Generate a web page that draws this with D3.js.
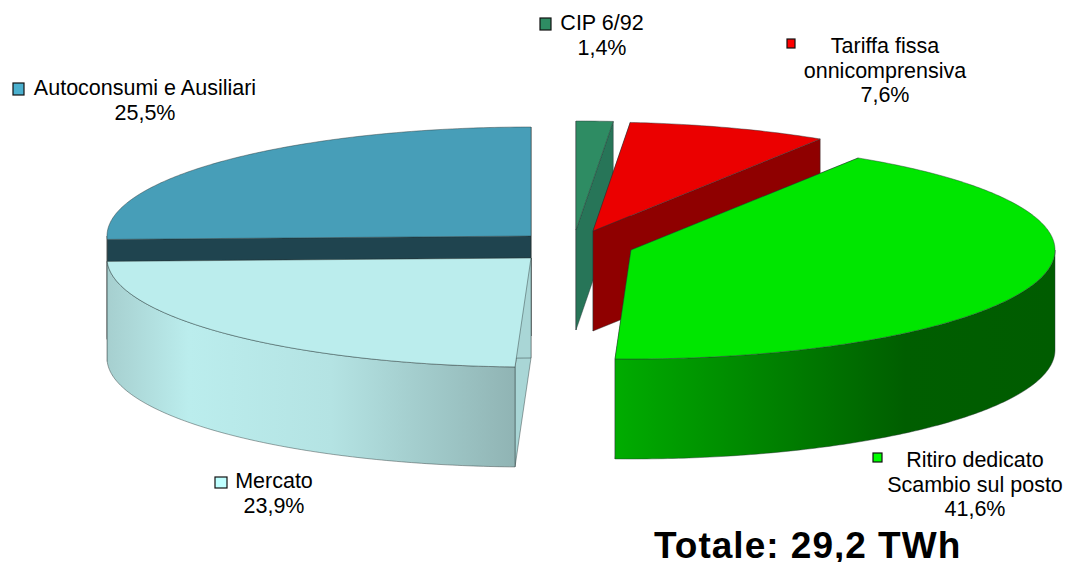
<!DOCTYPE html>
<html><head><meta charset="utf-8">
<script src="https://cdn.jsdelivr.net/npm/d3@7"></script>
<style>html,body{margin:0;background:#fff}svg{display:block}text{font-family:"Liberation Sans",Arial,sans-serif;fill:#000}</style>
</head><body><svg id="c" width="1066" height="562"></svg>
<script>
const categories=["CIP 6/92","Tariffa fissa onnicomprensiva","Ritiro dedicato Scambio sul posto","Mercato","Autoconsumi e Ausiliari"];
const values=[1.4,7.6,41.6,23.9,25.5];
const valueLabels=["1,4%","7,6%","41,6%","23,9%","25,5%"];
const topColors=["#2E8C63","#EB0000","#00E600","#BBEDED","#479EB8"];
const wallColors=["#277558","#8F0000","#009000","#A9D6D6","#1F444F"];
const keyColors=["#2E8C63","#FF0000","#00FF00","#BFFFFF","#4BB0CE"];
const centersX=[576,593,631,531,531];
const centersY=[230,231,250,258,236];
const labelLines=[["CIP  6/92","1,4%"],["Tariffa fissa","onnicomprensiva","7,6%"],["Ritiro dedicato","Scambio sul posto","41,6%"],["Mercato","23,9%"],["Autoconsumi e Ausiliari","25,5%"]];
const labelX=[602,885,975,274,145];
const labelY=[30,53,467,488,95];
const keyX=[540,787,873,215,13];
const keyY=[18,39,453,477,83];
const keyW=[11,8,9,12,11];
const keyH=[12,9,9,11,12];
const sideStops=[
 [],[],
 [[0,"#00AC00"],[.42,"#007A00"],[.66,"#005E00"],[1,"#005C00"]],
 [[0,"#A6CFCF"],[.2,"#BBEDED"],[.55,"#B4E3E3"],[1,"#90B4B4"]],
 []];
const depth=100, rx=424, ry=109;

const svg=d3.select("#c");
const defs=svg.append("defs");
const pie=d3.pie().sort(null).value(d=>d);
const arcs=pie(values);
const order=[4,0,1,2,3];
const lineGen=d3.line();
function pt(i,a,dy){return [centersX[i]+rx*Math.sin(a),centersY[i]-ry*Math.cos(a)+(dy||0)];}
function sample(a0,a1,dy,i){const n=Math.max(2,Math.ceil((a1-a0)*80));
  return d3.range(n+1).map(k=>pt(i,a0+(a1-a0)*k/n,dy));}
const edge="rgba(40,50,50,.55)";

// walls and faces, back to front
order.forEach(i=>{
  const {startAngle:a0,endAngle:a1}=arcs[i];
  const g=svg.append("g");
  const c=[centersX[i],centersY[i]];
  const cb=[c[0],c[1]+depth];
  // cut walls
  [a0,a1].forEach(a=>{
    const p=pt(i,a),q=pt(i,a,depth);
    g.append("path").attr("d",lineGen([c,p,q,cb])+"Z").attr("fill",wallColors[i]).attr("stroke",edge).attr("stroke-width",.8);
  });
  // outer rim, front half only
  const fa=Math.max(a0,Math.PI/2), fb=Math.min(a1,Math.PI*1.5);
  if(fb>fa){
    const id="side"+i;
    const pts=sample(fa,fb,0,i);
    const xs=pts.map(d=>d[0]);
    const gr=defs.append("linearGradient").attr("id",id).attr("gradientUnits","userSpaceOnUse")
      .attr("x1",d3.min(xs)).attr("x2",d3.max(xs)).attr("y1",0).attr("y2",0);
    sideStops[i].forEach(s=>gr.append("stop").attr("offset",s[0]).attr("stop-color",s[1]));
    const low=sample(fa,fb,depth,i).reverse();
    g.append("path").attr("d",lineGen(pts.concat(low))+"Z").attr("fill",`url(#${id})`).attr("stroke",edge).attr("stroke-width",.8);
  }
  // top face
  g.append("path").attr("d",lineGen([c].concat(sample(a0,a1,0,i)))+"Z").attr("fill",topColors[i]).attr("stroke",edge).attr("stroke-width",.8);
});

// labels
categories.forEach((name,i)=>{
  svg.append("rect").attr("x",keyX[i]).attr("y",keyY[i]).attr("width",keyW[i]).attr("height",keyH[i])
    .attr("fill",keyColors[i]).attr("stroke","#111").attr("stroke-width",1.2);
  const t=svg.append("text").attr("text-anchor","middle").attr("font-size",21.5);
  labelLines[i].forEach((s,k)=>t.append("tspan").attr("x",labelX[i]).attr("y",labelY[i]+k*24.5).text(s));
});
svg.append("text").attr("x",654).attr("y",558).attr("font-size",37).attr("font-weight","bold").attr("letter-spacing",1).text("Totale: 29,2 TWh");
</script></body></html>
